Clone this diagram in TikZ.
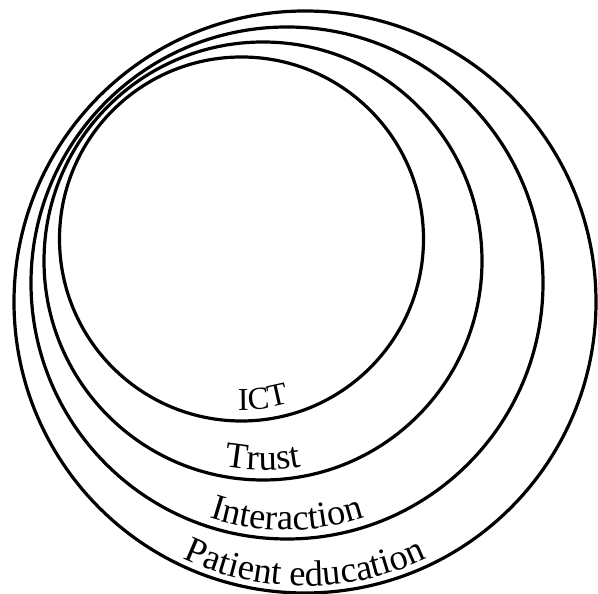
\documentclass[tikz,border=0pt]{standalone}
\usepackage{fontspec}
\setmainfont{Liberation Serif}
\usetikzlibrary{decorations.text}
\newcommand\ringfont{\fontsize{36.5}{36.5}\selectfont}
\newcommand\ictfont{\fontsize{32}{32}\selectfont}
\begin{document}
\begin{tikzpicture}[x=1pt,y=1pt,
  ring/.style={draw=black, line width=3.2pt}]
\useasboundingbox (0,0) rectangle (598,594);
\coordinate (cI) at (241.5,355);
\coordinate (cT) at (263,333);
\coordinate (cX) at (287,311);
\coordinate (cP) at (305,292);
\draw[ring] (cI) circle[radius=182];
\draw[ring] (cT) circle[radius=219];
\draw[ring] (cX) circle[radius=256];
\draw[ring] (cP) circle[radius=291];
\path[decorate, decoration={text along path, text align=center, text={|\ictfont|ICT}}]
  (cI) ++(237.5:171) arc[start angle=237.5, end angle=317.5, radius=171];
\path[decorate, decoration={text along path, text align=center, text={|\ringfont|Trust}}]
  (cT) ++(230:209) arc[start angle=230, end angle=310, radius=209];
\path[decorate, decoration={text along path, text align=center, text={|\ringfont|Interaction}}]
  (cX) ++(225:247) arc[start angle=225, end angle=315, radius=247];
\path[decorate, decoration={text along path, text align=center, text={|\ringfont|Patient education}}]
  (cP) ++(225:284) arc[start angle=225, end angle=315, radius=284];
\end{tikzpicture}
\end{document}
